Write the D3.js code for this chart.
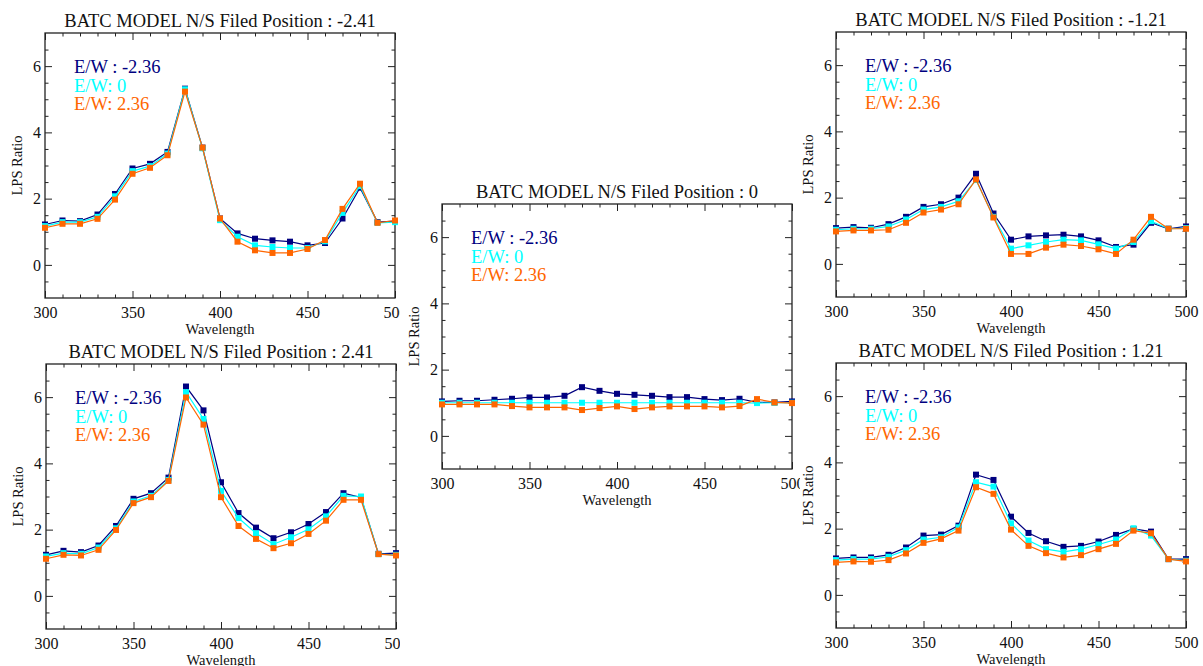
<!DOCTYPE html>
<html>
<head>
<meta charset="utf-8">
<script src="https://cdn.jsdelivr.net/npm/d3@7"></script>
<style>
  body { margin: 0; background: #fff; }
  text { font-family: "Liberation Serif", "Times New Roman", serif; }
</style>
</head>
<body>
<div id="chart"></div>
<script>
var svgWidth = 1203;
var svgHeight = 666;

// x values shared by every panel
var wavelengths = [300, 310, 320, 330, 340, 350, 360, 370, 380, 390, 400,
  410, 420, 430, 440, 450, 460, 470, 480, 490, 500];

var legendLabels = ["E/W : -2.36", "E/W: 0", "E/W: 2.36"];
var seriesColors = ["#000080", "#00ffff", "#ff6600"];

var xMajorTicks = [300, 350, 400, 450, 500];
var yMajorTicks = [0, 2, 4, 6];

// N/S = -2.41  (E/W -2.36, 0, 2.36)
var nsMinus241 = [
  [1.22, 1.34, 1.32, 1.52, 2.14, 2.91, 3.05, 3.41, 5.32, 3.54, 1.40, 0.95, 0.79, 0.74, 0.70, 0.59, 0.66, 1.40, 2.33, 1.29, 1.32],
  [1.17, 1.29, 1.29, 1.45, 2.07, 2.83, 2.98, 3.36, 5.30, 3.52, 1.35, 0.85, 0.59, 0.54, 0.51, 0.51, 0.71, 1.57, 2.38, 1.27, 1.29],
  [1.12, 1.24, 1.24, 1.39, 1.97, 2.75, 2.93, 3.31, 5.23, 3.54, 1.40, 0.70, 0.44, 0.36, 0.36, 0.48, 0.75, 1.69, 2.45, 1.27, 1.34]
];

// N/S = 2.41
var nsPlus241 = [
  [1.24, 1.36, 1.32, 1.52, 2.11, 2.93, 3.10, 3.57, 6.32, 5.60, 3.43, 2.50, 2.06, 1.74, 1.92, 2.17, 2.53, 3.10, 2.97, 1.27, 1.29],
  [1.19, 1.29, 1.27, 1.46, 2.04, 2.85, 3.02, 3.50, 6.15, 5.34, 3.17, 2.35, 1.89, 1.56, 1.77, 2.01, 2.40, 3.02, 3.00, 1.26, 1.24],
  [1.12, 1.24, 1.22, 1.39, 1.99, 2.80, 2.98, 3.47, 5.99, 5.17, 2.98, 2.11, 1.72, 1.44, 1.59, 1.87, 2.27, 2.90, 2.90, 1.26, 1.22]
];

// N/S = 0
var nsZero = [
  [1.04, 1.06, 1.06, 1.09, 1.12, 1.16, 1.16, 1.21, 1.47, 1.36, 1.27, 1.24, 1.21, 1.17, 1.17, 1.11, 1.08, 1.12, 1.01, 1.01, 1.04],
  [1.00, 1.00, 1.00, 1.00, 1.00, 1.00, 1.00, 1.00, 1.00, 1.00, 1.00, 1.00, 1.00, 1.00, 1.00, 1.00, 1.00, 1.00, 0.99, 1.00, 1.00],
  [0.95, 0.95, 0.95, 0.95, 0.90, 0.86, 0.86, 0.86, 0.78, 0.84, 0.89, 0.81, 0.86, 0.89, 0.89, 0.89, 0.86, 0.90, 1.11, 1.01, 0.99]
];

// N/S = -1.21
var nsMinus121 = [
  [1.08, 1.11, 1.09, 1.20, 1.42, 1.72, 1.80, 2.00, 2.72, 1.52, 0.73, 0.83, 0.86, 0.88, 0.83, 0.71, 0.51, 0.58, 1.24, 1.06, 1.13],
  [1.03, 1.06, 1.06, 1.13, 1.34, 1.64, 1.72, 1.89, 2.53, 1.42, 0.46, 0.56, 0.66, 0.73, 0.71, 0.59, 0.46, 0.66, 1.29, 1.06, 1.08],
  [0.98, 1.01, 1.01, 1.03, 1.24, 1.55, 1.64, 1.80, 2.55, 1.40, 0.30, 0.30, 0.49, 0.58, 0.54, 0.44, 0.30, 0.73, 1.42, 1.06, 1.06]
];

// N/S = 1.21
var nsPlus121 = [
  [1.10, 1.13, 1.13, 1.21, 1.43, 1.79, 1.82, 2.09, 3.63, 3.47, 2.36, 1.87, 1.62, 1.45, 1.48, 1.61, 1.81, 1.99, 1.91, 1.08, 1.08],
  [1.05, 1.08, 1.08, 1.15, 1.35, 1.67, 1.74, 2.04, 3.40, 3.27, 2.16, 1.64, 1.38, 1.30, 1.38, 1.52, 1.67, 2.01, 1.79, 1.08, 1.03],
  [0.98, 1.01, 1.00, 1.05, 1.25, 1.57, 1.69, 1.94, 3.25, 3.05, 1.97, 1.48, 1.26, 1.13, 1.20, 1.38, 1.54, 1.94, 1.86, 1.08, 1.01]
];

// panel placement: plot box origin and the column each picture is cut to
var panels = [
  { title: "BATC MODEL N/S Filed Position : -2.41", data: nsMinus241, left: 45, top: 33, clip: [0, 0, 400, 666] },
  { title: "BATC MODEL N/S Filed Position : 2.41", data: nsPlus241, left: 46, top: 364, clip: [0, 0, 400, 666] },
  { title: "BATC MODEL N/S Filed Position : 0", data: nsZero, left: 442, top: 204, clip: [400, 0, 400, 666] },
  { title: "BATC MODEL N/S Filed Position : -1.21", data: nsMinus121, left: 836, top: 32, clip: [800, 0, 403, 666] },
  { title: "BATC MODEL N/S Filed Position : 1.21", data: nsPlus121, left: 836, top: 363, clip: [800, 0, 403, 666] }
];

var width = 350;
var height = 265;

var svg = d3.select("#chart")
  .append("svg")
  .attr("width", svgWidth)
  .attr("height", svgHeight);

var xScale = d3.scaleLinear().domain([300, 500]).range([0, width]);
var yScale = d3.scaleLinear().domain([-1, 7]).range([height, 0]);

var axisColor = "#222";

function styleAxis(g) {
  g.select(".domain").remove();
  g.selectAll("line").attr("stroke", axisColor).attr("stroke-width", 1);
  g.selectAll("text")
    .attr("fill", "#111")
    .style("font-size", "16px")
    .style("font-family", "Liberation Serif, serif");
}

function drawPanel(p, i) {
  svg.append("clipPath")
    .attr("id", "clip" + i)
    .append("rect")
    .attr("x", p.clip[0]).attr("y", p.clip[1])
    .attr("width", p.clip[2]).attr("height", p.clip[3]);

  var outer = svg.append("g").attr("clip-path", "url(#clip" + i + ")");
  var chartGroup = outer.append("g")
    .attr("transform", `translate(${p.left}, ${p.top})`);

  // minor ticks on all four sides
  var xMinor = wavelengths.filter(d => xMajorTicks.indexOf(d) < 0);
  var yMinor = d3.range(-0.5, 7, 0.5).filter(d => yMajorTicks.indexOf(d) < 0);

  chartGroup.append("g")
    .attr("transform", `translate(0, ${height})`)
    .call(d3.axisBottom(xScale).tickValues(xMinor).tickSize(-3.5).tickFormat(""))
    .call(styleAxis);
  chartGroup.append("g")
    .call(d3.axisTop(xScale).tickValues(xMinor).tickSize(-3.5).tickFormat(""))
    .call(styleAxis);
  chartGroup.append("g")
    .call(d3.axisLeft(yScale).tickValues(yMinor).tickSize(-3.5).tickFormat(""))
    .call(styleAxis);
  chartGroup.append("g")
    .attr("transform", `translate(${width}, 0)`)
    .call(d3.axisRight(yScale).tickValues(yMinor).tickSize(-3.5).tickFormat(""))
    .call(styleAxis);

  // major ticks with labels
  chartGroup.append("g")
    .attr("transform", `translate(0, ${height})`)
    .call(d3.axisBottom(xScale).tickValues(xMajorTicks).tickSize(-7).tickPadding(9).tickFormat(d3.format("d")))
    .call(styleAxis);
  chartGroup.append("g")
    .call(d3.axisTop(xScale).tickValues(xMajorTicks).tickSize(-7).tickFormat(""))
    .call(styleAxis);
  chartGroup.append("g")
    .call(d3.axisLeft(yScale).tickValues(yMajorTicks).tickSize(-7).tickPadding(4).tickFormat(d3.format("d")))
    .call(styleAxis);
  chartGroup.append("g")
    .attr("transform", `translate(${width}, 0)`)
    .call(d3.axisRight(yScale).tickValues(yMajorTicks).tickSize(-7).tickFormat(""))
    .call(styleAxis);

  // frame
  chartGroup.append("rect")
    .attr("width", width)
    .attr("height", height)
    .attr("fill", "none")
    .attr("stroke", axisColor)
    .attr("stroke-width", 1.3);

  var line = d3.line()
    .x((d, j) => xScale(wavelengths[j]))
    .y(d => yScale(d));

  p.data.forEach(function(series, s) {
    chartGroup.append("path")
      .attr("d", line(series))
      .attr("fill", "none")
      .attr("stroke", seriesColors[s])
      .attr("stroke-width", 1.2);

    chartGroup.selectAll(null)
      .data(series)
      .enter()
      .append("rect")
      .attr("x", (d, j) => xScale(wavelengths[j]) - 3)
      .attr("y", d => yScale(d) - 3)
      .attr("width", 6)
      .attr("height", 6)
      .attr("fill", seriesColors[s]);
  });

  // legend
  legendLabels.forEach(function(label, s) {
    chartGroup.append("text")
      .attr("x", 29)
      .attr("y", 40 + s * 18.5)
      .attr("fill", seriesColors[s])
      .style("font-size", "18.5px")
      .text(label);
  });

  chartGroup.append("text")
    .attr("x", width / 2)
    .attr("y", -6)
    .attr("text-anchor", "middle")
    .attr("fill", "#111")
    .style("font-size", "18.5px")
    .text(p.title);

  chartGroup.append("text")
    .attr("x", width / 2)
    .attr("y", height + 36)
    .attr("text-anchor", "middle")
    .attr("fill", "#111")
    .style("font-size", "14.5px")
    .text("Wavelength");

  chartGroup.append("text")
    .attr("transform", `translate(-23, ${height / 2}) rotate(-90)`)
    .attr("text-anchor", "middle")
    .attr("fill", "#111")
    .style("font-size", "14.5px")
    .text("LPS Ratio");
}

panels.forEach(drawPanel);
</script>
</body>
</html>
